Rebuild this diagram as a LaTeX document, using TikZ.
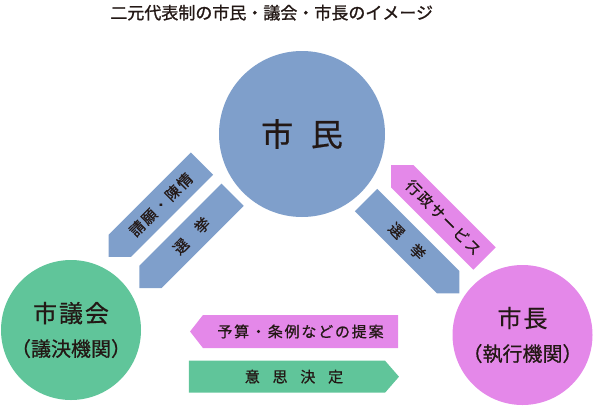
\documentclass[tikz,border=0pt]{standalone}
\usepackage{fontspec}
\setmainfont{Noto Sans CJK JP}[FakeBold=0.7]
\newfontfamily\titlefont{Noto Sans CJK JP}[FakeBold=1.2]
\usepackage{tikz}
\usetikzlibrary{shapes.symbols}

\definecolor{citizen}{HTML}{7F9FCB}
\definecolor{council}{HTML}{60C59A}
\definecolor{mayor}{HTML}{E488E9}
\definecolor{ink}{HTML}{231815}

\begin{document}
\begin{tikzpicture}[
        x=1pt, y=-1pt,
        actor/.style={circle, fill=#1, minimum size=140pt, inner sep=0pt, align=center, text=ink, font=\fontsize{20}{34}\selectfont},
        actor/.default=citizen,
        flow/.style={signal, signal pointer angle=90, fill=#1, minimum height=31.5pt, minimum width=132pt, inner sep=0pt, text=ink, font=\fontsize{15}{15}\selectfont\addfontfeature{LetterSpace=12}},
        flow/.default=citizen,
    ]
    \useasboundingbox (0,0) rectangle (594,405);

    % Title
    \node[text=ink, font=\titlefont\fontsize{17}{17}\selectfont] (title) at (271.7,12.7) {二元代表制の市民・議会・市長のイメージ};

    % Actors
    \node[actor=citizen, minimum size=166pt, font=\fontsize{32}{32}\selectfont] (shimin) at (302,134) {市\hspace{0.55em}民};
    \node[actor=council] (gikai) at (71,330) {{\fontsize{24}{34}\selectfont\addfontfeature{LetterSpace=8}市議会}\\（議決機関）};
    \node[actor=mayor] (shicho) at (522.5,335) {{\fontsize{24}{34}\selectfont\addfontfeature{LetterSpace=8}市長}\\（執行機関）};

    % Citizens and council
    \node[flow=citizen, rotate=45, signal to=west] (petition) at (160.9,204.7) {請願・陳情};
    \node[flow=citizen, rotate=45, signal to=west] (electc) at (191.5,235.8) {選\hspace{1em}挙};

    % Citizens and mayor
    \node[flow=citizen, rotate=-45, signal to=east] (electm) at (407.2,241.2) {選\hspace{1em}挙};
    \node[flow=mayor, rotate=-45, signal to=west] (service) at (443.4,217.4) {行政サービス};

    % Council and mayor
    \node[flow=mayor, signal to=west, signal pointer angle=104, minimum height=33pt, minimum width=208pt] (proposal) at (300.5,331.5) {予算・条例などの提案\hspace{12pt}};
    \node[flow=council, signal to=east, signal pointer angle=98, minimum height=32pt, minimum width=210pt] (decision) at (287,376.7) {\hspace{14pt}意\hspace{.85em}思\hspace{.85em}決\hspace{.85em}定};
    \end{tikzpicture}
\end{document}
